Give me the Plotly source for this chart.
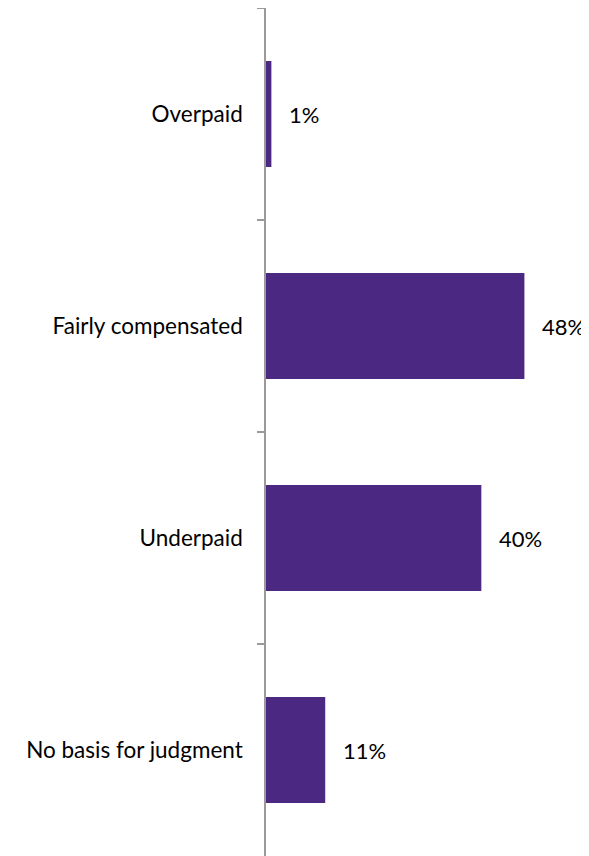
import plotly.graph_objects as go

categories = ["Overpaid", "Fairly compensated", "Underpaid", "No basis for judgment"]
values = [1, 48, 40, 11]
labels = ["1%", "48%", "40%", "11%"]

FONT = "Lato"
BAR_COLOR = "#4B2882"

fig = go.Figure()
fig.add_trace(go.Bar(
    x=values, y=categories, orientation="h",
    width=0.5,
    marker=dict(color=BAR_COLOR, line=dict(width=0)),
    hoverinfo="skip",
))

for v, c, t in zip(values, categories, labels):
    fig.add_annotation(x=v, y=c, text=t, showarrow=False, xanchor="left",
                       xshift=16, font=dict(family=FONT, size=22, color="#000000"))

fig.update_layout(
    width=581, height=848,
    margin=dict(l=258, r=0, t=0, b=0),
    paper_bgcolor="white", plot_bgcolor="white",
    showlegend=False,
    bargap=0.5,
    xaxis=dict(range=[0, 60], visible=False, fixedrange=True),
    yaxis=dict(
        type="category", autorange="reversed",
        showline=True, linecolor="#9A9A9A", linewidth=1.5,
        ticks="outside", ticklen=7, tickcolor="#9A9A9A", tickwidth=1.5,
        tickson="boundaries", showgrid=False, zeroline=False,
        tickfont=dict(family=FONT, size=22.5, color="#000000"),
        ticklabelstandoff=17,
    ),
)

fig.write_html("out.html")
